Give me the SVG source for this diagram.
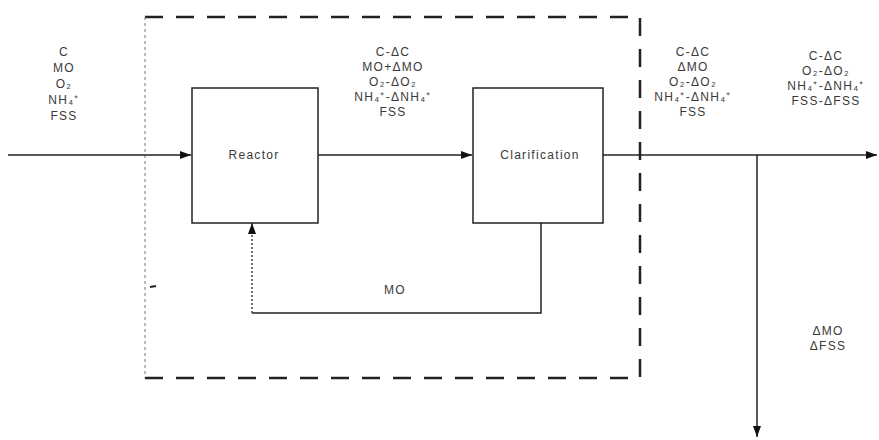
<svg xmlns="http://www.w3.org/2000/svg" width="879" height="440" viewBox="0 0 879 440">
<style>
.box{fill:#fff;stroke:#222;stroke-width:1.5}
.ln{fill:none;stroke:#222;stroke-width:1.5}
.t{font-family:"Liberation Sans",Arial,sans-serif;font-size:12px;letter-spacing:1.3px;fill:#3a3a3a;text-anchor:middle}
</style>
<defs>
<marker id="ah" markerWidth="11" markerHeight="8" refX="11" refY="4" orient="auto" markerUnits="userSpaceOnUse">
<path d="M0,0 L11,4 L0,8 Z" fill="#111"/>
</marker>
</defs>
<rect width="879" height="440" fill="#fff"/>
<g id="boundary">
<path d="M145,17 H640 V378 H145" fill="none" stroke="#222" stroke-width="2.5" stroke-dasharray="18 13"/>
<line x1="145" y1="17" x2="145" y2="378" stroke="#777" stroke-width="1" stroke-dasharray="3 3"/>
<path d="M150,287 l6,-1" stroke="#222" stroke-width="2"/>
</g>
<g id="connectors">
<line class="ln" x1="8" y1="155" x2="191" y2="155" marker-end="url(#ah)"/>
<line class="ln" x1="318" y1="155" x2="472" y2="155" marker-end="url(#ah)"/>
<line class="ln" x1="603" y1="155" x2="877" y2="155" marker-end="url(#ah)"/>
<line class="ln" x1="757" y1="155" x2="757" y2="437" marker-end="url(#ah)"/>
<polyline class="ln" points="541,223 541,313 252,313"/>
<line x1="252" y1="313" x2="252" y2="223" stroke="#444" stroke-width="1.5" stroke-dasharray="2 2" marker-end="url(#ah)"/>
</g>
<g id="reactor">
<rect class="box" x="192" y="88" width="126" height="135"/>
<text class="t" x="254" y="159">Reactor</text>
</g>
<g id="clarification">
<rect class="box" x="473" y="88" width="130" height="135"/>
<text class="t" x="540" y="159">Clarification</text>
</g>
<g id="label-in">
<text class="t" x="64" y="56">C</text>
<text class="t" x="64" y="72">MO</text>
<text class="t" x="64" y="88">O₂</text>
<text class="t" x="64" y="104">NH₄⁺</text>
<text class="t" x="64" y="120">FSS</text>
</g>
<g id="label-mid">
<text class="t" x="393" y="56">C-ΔC</text>
<text class="t" x="393" y="71">MO+ΔMO</text>
<text class="t" x="393" y="86">O₂-ΔO₂</text>
<text class="t" x="393" y="101">NH₄⁺-ΔNH₄⁺</text>
<text class="t" x="393" y="116">FSS</text>
</g>
<g id="label-out">
<text class="t" x="693" y="56">C-ΔC</text>
<text class="t" x="693" y="71">ΔMO</text>
<text class="t" x="693" y="86">O₂-ΔO₂</text>
<text class="t" x="693" y="101">NH₄⁺-ΔNH₄⁺</text>
<text class="t" x="693" y="116">FSS</text>
</g>
<g id="label-right">
<text class="t" x="826" y="60">C-ΔC</text>
<text class="t" x="826" y="75">O₂-ΔO₂</text>
<text class="t" x="826" y="90">NH₄⁺-ΔNH₄⁺</text>
<text class="t" x="826" y="105">FSS-ΔFSS</text>
</g>
<g id="label-mo">
<text class="t" x="395" y="294">MO</text>
</g>
<g id="label-down">
<text class="t" x="828" y="335">ΔMO</text>
<text class="t" x="828" y="350">ΔFSS</text>
</g>
</svg>
